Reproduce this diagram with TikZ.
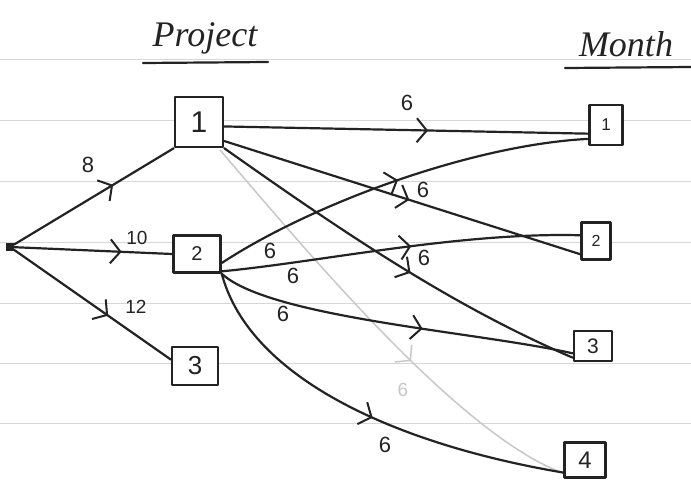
\documentclass[tikz,border=0pt]{standalone}
\usepackage{fontspec}
\setmainfont{Liberation Sans}
\newfontfamily\titlefont{Liberation Serif}
\usetikzlibrary{arrows.meta,decorations.markings}
\definecolor{ink}{RGB}{35,35,35}
\definecolor{ruled}{RGB}{215,215,215}
\definecolor{faint}{RGB}{200,200,200}
\tikzset{
  ink/.style={draw=ink, line width=2.2pt, line cap=round, line join=round},
  box/.style={ink, line width=2.5pt, fill=white, inner sep=0pt, text=ink},
  edge/.style={ink},
  faintedge/.style={draw=faint, line width=1.5pt},
  midarrow/.style={postaction={decorate}, decoration={markings,
     mark=at position #1 with {\arrow[ink]{Straight Barb[length=10pt,width=24pt,line width=2pt]}}}},
  faintarrow/.style={postaction={decorate}, decoration={markings,
     mark=at position #1 with {\arrow[faint]{Straight Barb[length=10pt,width=24pt,line width=1.5pt]}}}},
  lbl/.style={text=ink, font=\fontsize{22}{22}\selectfont, inner sep=0pt},
  slbl/.style={text=ink, font=\fontsize{19}{19}\selectfont, inner sep=0pt},
  ttl/.style={text=ink, font=\titlefont\itshape\fontsize{36}{36}\selectfont, inner sep=0pt},
  paperline/.style={draw=ruled, line width=0.9pt}
}
\begin{document}
\begin{tikzpicture}[x=1pt,y=-1pt]
\useasboundingbox (0,0) rectangle (691,480);
\fill[white] (0,0) rectangle (691,480);
% ruled paper
\foreach \yy in {59,120,181,242,303,363,423}
  \draw[paperline] (0,\yy) -- (691,\yy);

% titles
\node[ttl] (tproj) at (205,38) {Project};
\node[ttl] (tmonth) at (626,44) {Month};
\draw[ink] (143,63) -- (268,62);
\draw[ink] (565,68) -- (691,67);

% faint (erased) edge P1 -> M4 drawn first
\coordinate (f0) at (220,150);
\coordinate (f1) at (563,473);
\draw[faintedge, faintarrow=0.6] (f0) .. controls (310,255) and (460,435) .. (f1);
\node[slbl, text=faint] (lf) at (403,390) {6};

% nodes
\node[fill=ink, minimum size=8pt, inner sep=0pt] (src) at (10,247) {};
\node[box, minimum width=48pt, minimum height=50pt, font=\fontsize{30}{30}\selectfont] (p1) at (199,122) {1};
\node[box, minimum width=47pt, minimum height=37pt, font=\fontsize{20}{20}\selectfont] (p2) at (197,254) {2};
\node[box, minimum width=46pt, minimum height=38pt, font=\fontsize{26}{26}\selectfont] (p3) at (195,366) {3};
\node[box, minimum width=33pt, minimum height=40pt, font=\fontsize{17}{17}\selectfont] (m1) at (606,125) {1};
\node[box, minimum width=29pt, minimum height=37pt, font=\fontsize{16}{16}\selectfont] (m2) at (596,241) {2};
\node[box, minimum width=38pt, minimum height=30pt, font=\fontsize{21}{21}\selectfont] (m3) at (593,346) {3};
\node[box, minimum width=41pt, minimum height=35pt, font=\fontsize{24}{24}\selectfont] (m4) at (585,460) {4};

% source edges
\draw[edge, midarrow=0.62] (src) -- (p1.south west);
\draw[edge, midarrow=0.68] (src) -- (p2.west);
\draw[edge, midarrow=0.6] (src) -- (p3.165);
\node[lbl] (l8) at (88,165) {8};
\node[slbl] (l10) at (137,238) {10};
\node[slbl] (l12) at (136,307) {12};

% project 1 edges
\draw[edge, midarrow=0.56] (p1.-10) -- (m1.206);
\draw[edge, midarrow=0.52] (p1.-37) -- (m2.220);
\draw[edge, midarrow=0.55] (p1.south east) .. controls (340,230) and (450,305) .. (m3.210);
\node[lbl] (l11) at (407,103) {6};
\node[lbl] (l12b) at (423,190) {6};
\node[lbl] (l13) at (424,258) {6};

% project 2 edges
\draw[edge, midarrow=0.5] (p2.-20) .. controls (310,205) and (470,145) .. (m1.218);
\draw[edge, midarrow=0.53] (p2.-35) .. controls (320,262) and (460,232) .. (m2.160);
\draw[edge, midarrow=0.58] (p2.south east) .. controls (270,318) and (480,332) .. (m3.200);
\draw[edge, midarrow=0.52] (p2.south east) .. controls (250,380) and (400,445) .. (m4.210);
\node[lbl] (l21) at (270,251) {6};
\node[lbl] (l22) at (293,276) {6};
\node[lbl] (l23) at (283,314) {6};
\node[lbl] (l24) at (385,445) {6};
\end{tikzpicture}
\end{document}
